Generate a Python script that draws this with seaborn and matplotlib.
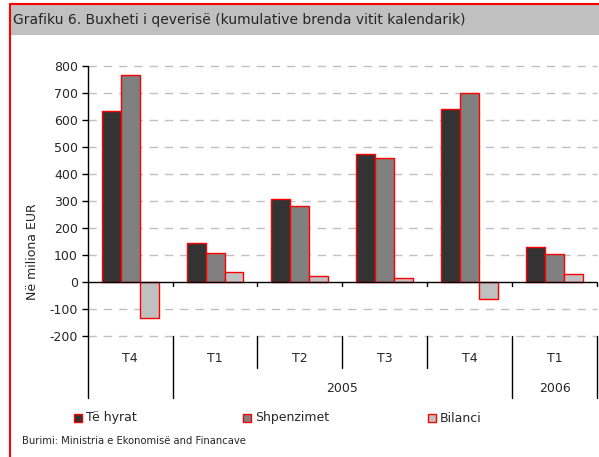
import matplotlib
matplotlib.use("Agg")
import matplotlib.pyplot as plt
import matplotlib.transforms as mtransforms
import seaborn as sns
import pandas as pd
from matplotlib.patches import Rectangle
from matplotlib.lines import Line2D

quarters = ["T4", "T1", "T2", "T3", "T4", "T1"]
years = ["", "2005", "2005", "2005", "2005", "2006"]
series_names = ["Të hyrat", "Shpenzimet", "Bilanci"]
te_hyrat = [633, 143, 306, 474, 640, 131]
shpenzimet = [767, 106, 281, 458, 699, 102]
bilanci = [-133, 36, 23, 14, -63, 29]
colors = ["#333333", "#808080", "#C0C0C0"]

cat_ids = [f"{y}-{q}-{i}" for i, (q, y) in enumerate(zip(quarters, years))]
rows = []
for name, vals in zip(series_names, [te_hyrat, shpenzimet, bilanci]):
    for cid, v in zip(cat_ids, vals):
        rows.append({"cat": cid, "series": name, "value": v})
df = pd.DataFrame(rows)

sns.set_theme(style="white")
plt.rcParams["font.family"] = ["DejaVu Sans"]
plt.rcParams["axes.unicode_minus"] = False

W, H = 599, 457
fig = plt.figure(figsize=(W / 100, H / 100), dpi=100)

def fx(px):
    return px / W

def fy(py):
    return 1 - py / H

# title bar and frame
fig.patches.append(Rectangle((fx(10), fy(35)), fx(599 - 10), (35 - 4) / H,
                             transform=fig.transFigure, facecolor="#C0C0C0",
                             edgecolor="none", zorder=0))
fig.lines.append(Line2D([fx(10), 1], [fy(4), fy(4)], transform=fig.transFigure,
                        color="red", lw=1.5))
fig.lines.append(Line2D([fx(10), fx(10)], [fy(4), 0], transform=fig.transFigure,
                        color="red", lw=1.5))
fig.text(fx(13), fy(20), "Grafiku 6. Buxheti i qeverisë (kumulative brenda vitit kalendarik)",
         fontsize=10, va="center", ha="left")

left, right, top, bottom = 87.7, 597, 66, 336
ax = fig.add_axes([fx(left), fy(bottom), (right - left) / W, (bottom - top) / H])

sns.barplot(data=df, x="cat", y="value", hue="series", palette=colors,
            order=cat_ids, hue_order=series_names, width=0.67,
            edgecolor="red", linewidth=1, ax=ax, legend=False, errorbar=None,
            saturation=1, zorder=3)

ax.set_ylim(-200, 800)
ax.set_xlim(-0.5, len(cat_ids) - 0.5)
ax.set_yticks(range(-200, 801, 100))
ax.tick_params(axis="y", which="both", left=True, length=4, width=1, color="black",
               labelsize=9, pad=3)
ax.set_xticks([])
ax.set_xlabel("")
ax.set_ylabel("")
for s in ["top", "right", "bottom", "left"]:
    ax.spines[s].set_visible(False)

for v in range(-200, 801, 100):
    if v != 0:
        ax.axhline(v, color="#C0C0C0", lw=1, ls=(0, (6, 5)), zorder=1, clip_on=False)
ax.axhline(0, color="black", lw=1, zorder=4)

bt = mtransforms.blended_transform_factory(ax.transData, ax.transAxes)

# left spine extended
ax.plot([-0.5, -0.5], [1, -62 / 270], transform=bt, color="black", lw=1, clip_on=False,
        zorder=5)

n = len(cat_ids)
for i in range(1, n + 1):
    xb = i - 0.5
    # tick at zero line
    ax.plot([xb, xb], [0, -14], color="black", lw=1, clip_on=False, zorder=4)
    year_boundary = (i == n) or (years[i] != years[i - 1])
    depth = -62 / 270 if year_boundary else -32 / 270
    ax.plot([xb, xb], [0, depth], transform=bt, color="black", lw=1, clip_on=False)

for i, q in enumerate(quarters):
    ax.text(i, -22 / 270, q, transform=bt, ha="center", va="center", fontsize=9)

# year labels
i = 0
while i < n:
    j = i
    while j + 1 < n and years[j + 1] == years[i]:
        j += 1
    if years[i]:
        ax.text((i + j) / 2, -52 / 270, years[i], transform=bt, ha="center",
                va="center", fontsize=9)
    i = j + 1

fig.text(fx(33), fy(252), "Në miliona EUR", rotation=90, ha="center", va="center",
         fontsize=9)

# legend
leg_x = [74, 243, 428]
for xs, name, c in zip(leg_x, series_names, colors):
    fig.patches.append(Rectangle((fx(xs), fy(422)), 8 / W, 8 / H, transform=fig.transFigure,
                                 facecolor=c, edgecolor="red", lw=1))
    fig.text(fx(xs + 12), fy(418), name, ha="left", va="center", fontsize=9)

fig.text(fx(22), fy(441), "Burimi: Ministria e Ekonomisë and Financave", ha="left",
         va="center", fontsize=7.2)

fig.savefig("out.png", dpi=100)
